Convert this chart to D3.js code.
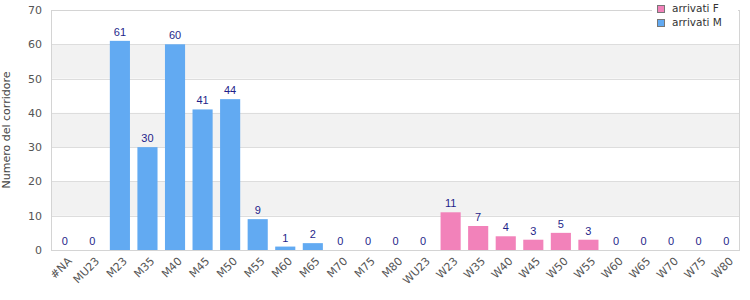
<!DOCTYPE html>
<html><head><meta charset="utf-8">
<script src="https://cdn.jsdelivr.net/npm/d3@7"></script>
<style>body{margin:0;background:#fff}svg{display:block}</style>
</head><body>
<svg id="c" width="750" height="300"></svg>
<script>
const categories = ["#NA","MU23","M23","M35","M40","M45","M50","M55","M60","M65","M70","M75","M80","WU23","W23","W35","W40","W45","W50","W55","W60","W65","W70","W75","W80"];
const values = [0,0,61,30,60,41,44,9,1,2,0,0,0,0,11,7,4,3,5,3,0,0,0,0,0];
const seriesOf = ["M","M","M","M","M","M","M","M","M","M","M","M","M","M","F","F","F","F","F","F","F","F","F","F","F"];
const seriesNames = ["arrivati F","arrivati M"];
const seriesKeys = ["F","M"];
const seriesColors = ["#f282ba","#62aaf2"];
const yTicks = [0,10,20,30,40,50,60,70];
const yTitle = "Numero del corridore";

const svg = d3.select("#c");
const m = {l:51, r:10, t:10, b:50};
const W = 750, H = 300;
const x = d3.scaleBand().domain(categories).range([m.l, W-m.r]).paddingInner(0.27).paddingOuter(0.135);
const y = d3.scaleLinear().domain([0,70]).range([H-m.b, m.t]);
const color = d3.scaleOrdinal().domain(seriesKeys).range(seriesColors);

// bands
for (let i=0;i<yTicks.length-1;i++){
  if (i%2===1){
    svg.append("rect").attr("x",m.l).attr("width",W-m.r-m.l)
      .attr("y",y(yTicks[i+1])).attr("height",y(yTicks[i])-y(yTicks[i+1])).attr("fill","#f2f2f2");
  }
}
// gridlines
svg.append("g").selectAll("line").data(yTicks).join("line")
  .attr("x1",m.l).attr("x2",W-m.r).attr("y1",d=>Math.round(y(d))+0.5).attr("y2",d=>Math.round(y(d))+0.5)
  .attr("stroke","#dddddd");
// border
svg.append("rect").attr("x",m.l+0.5).attr("y",m.t+0.5).attr("width",W-m.r-m.l-1).attr("height",H-m.b-m.t)
  .attr("fill","none").attr("stroke","#d4d4d4");

// y axis labels
const ya = svg.append("g").attr("transform",`translate(${m.l},0)`)
  .call(d3.axisLeft(y).tickValues(yTicks).tickSize(0).tickPadding(9));
ya.select(".domain").remove();
ya.selectAll("text").attr("font-family","DejaVu Sans, sans-serif").attr("font-size",11).attr("fill","#555");

// x axis labels (rotated)
svg.append("g").selectAll("text").data(categories).join("text")
  .attr("transform",d=>`translate(${x(d)+x.bandwidth()/2+5},${H-m.b+9}) rotate(-45)`)
  .attr("text-anchor","end").attr("dy","0.35em")
  .attr("font-family","DejaVu Sans, sans-serif").attr("font-size",11).attr("fill","#555")
  .text(d=>d);

// bars
svg.append("g").selectAll("rect").data(categories).join("rect")
  .attr("x",d=>x(d)).attr("width",x.bandwidth())
  .attr("y",(d,i)=>y(values[i])).attr("height",(d,i)=>y(0)-y(values[i]))
  .attr("fill",(d,i)=>color(seriesOf[i]));

// value labels
svg.append("g").selectAll("text").data(categories).join("text")
  .attr("x",d=>x(d)+x.bandwidth()/2).attr("y",(d,i)=>y(values[i])-5)
  .attr("text-anchor","middle").attr("font-family","Liberation Sans, Arial, sans-serif").attr("font-size",11)
  .attr("fill","#1f1f8a").text((d,i)=>values[i]);

// y title
svg.append("text").attr("transform",`translate(10,${(m.t+H-m.b)/2}) rotate(-90)`)
  .attr("text-anchor","middle").attr("font-family","DejaVu Sans, sans-serif").attr("font-size",11)
  .attr("fill","#444").text(yTitle);

// legend
const lg = svg.append("g");
lg.append("rect").attr("x",652).attr("y",0).attr("width",86).attr("height",31).attr("fill","#fff");
seriesNames.forEach((n,i)=>{
  lg.append("rect").attr("x",657.5).attr("y",5.5+i*14).attr("width",7).attr("height",7)
    .attr("fill",seriesColors[i]).attr("stroke","#777");
  lg.append("text").attr("x",672).attr("y",12+i*14).attr("font-family","DejaVu Sans, sans-serif")
    .attr("font-size",10.5).attr("fill","#333").text(n);
});
</script>
</body></html>
